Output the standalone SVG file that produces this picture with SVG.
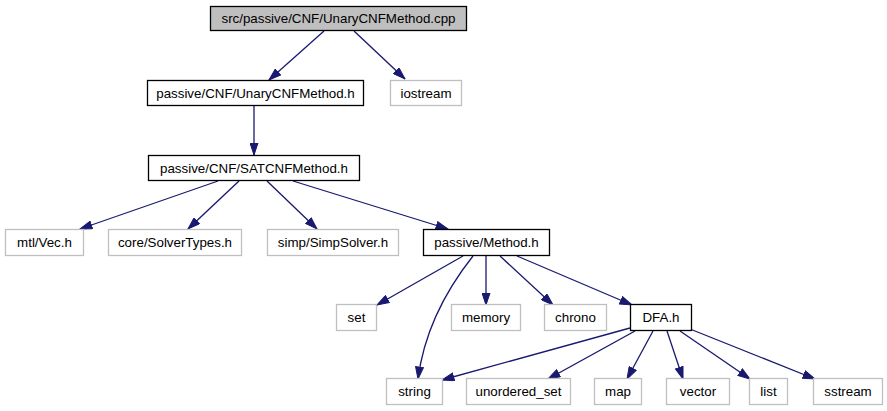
<svg xmlns="http://www.w3.org/2000/svg" width="887" height="411" viewBox="0 0 887 411">
<style>
  text { font-family: "Liberation Sans", Arial, Helvetica, sans-serif; font-size: 13.33px; fill: #000; text-anchor: middle; }
  .ext rect { fill: #fff; stroke: #bfbfbf; stroke-width: 1.3; }
  .int rect { fill: #fff; stroke: #000; stroke-width: 1.3; }
  .root rect { fill: #bfbfbf; stroke: #000; stroke-width: 1.3; }
  #edges path { fill: none; stroke: #191970; stroke-width: 1.3; marker-end: url(#arr); }
</style>
<defs>
  <marker id="arr" viewBox="0 0 13 9" refX="12.5" refY="4.5" markerWidth="13" markerHeight="9" markerUnits="userSpaceOnUse" orient="auto">
    <path d="M0.5,0.5 L12.5,4.5 L0.5,8.5 z" fill="#191970" stroke="#191970" stroke-width="1"/>
  </marker>
</defs>
<rect width="887" height="411" fill="#fff"/>
<g id="edges">
  <path d="M324,31 L269,80"/>
  <path d="M354,31 L405,79"/>
  <path d="M254,106 L254,155"/>
  <path d="M218,181 L80,229"/>
  <path d="M239,181 L188,229"/>
  <path d="M267,181 L317,229"/>
  <path d="M293,181 L448,229"/>
  <path d="M463,256 L377,305"/>
  <path d="M473,256 C450,285 425,325 418,379"/>
  <path d="M486,256 L486,305"/>
  <path d="M500,256 L553,305"/>
  <path d="M517,256 L632,305"/>
  <path d="M630,328 L442,380"/>
  <path d="M635,331 L548,379"/>
  <path d="M653,331 L627,379"/>
  <path d="M667,331 L683,379"/>
  <path d="M680,331 L750,379"/>
  <path d="M690,329 L815,379"/>
</g>
<g id="n_cpp" class="root"><rect x="210.5" y="6.5" width="256" height="24"/><text x="338.5" y="23">src/passive/CNF/UnaryCNFMethod.cpp</text></g>
<g id="n_unary" class="int"><rect x="147.5" y="80.5" width="216" height="25"/><text x="255.5" y="97.5">passive/CNF/UnaryCNFMethod.h</text></g>
<g id="n_iostream" class="ext"><rect x="390.5" y="80.5" width="71" height="25"/><text x="426" y="97.5">iostream</text></g>
<g id="n_sat" class="int"><rect x="148.5" y="155.5" width="211" height="25"/><text x="254" y="172.5">passive/CNF/SATCNFMethod.h</text></g>
<g id="n_vec" class="ext"><rect x="5.5" y="229.5" width="78" height="26"/><text x="44.5" y="247">mtl/Vec.h</text></g>
<g id="n_solvertypes" class="ext"><rect x="108.5" y="229.5" width="133" height="26"/><text x="175" y="247">core/SolverTypes.h</text></g>
<g id="n_simpsolver" class="ext"><rect x="267.5" y="229.5" width="131" height="26"/><text x="333" y="247">simp/SimpSolver.h</text></g>
<g id="n_method" class="int"><rect x="423.5" y="229.5" width="126" height="26"/><text x="486.5" y="247">passive/Method.h</text></g>
<g id="n_set" class="ext"><rect x="336.5" y="304.5" width="40" height="26"/><text x="356.5" y="322">set</text></g>
<g id="n_memory" class="ext"><rect x="451.5" y="304.5" width="69" height="26"/><text x="486" y="322">memory</text></g>
<g id="n_chrono" class="ext"><rect x="544.5" y="304.5" width="62" height="26"/><text x="575.5" y="322">chrono</text></g>
<g id="n_dfa" class="int"><rect x="630.5" y="304.5" width="61" height="26"/><text x="661" y="322">DFA.h</text></g>
<g id="n_string" class="ext"><rect x="386.5" y="378.5" width="56" height="26"/><text x="414.5" y="396">string</text></g>
<g id="n_uset" class="ext"><rect x="466.5" y="378.5" width="104" height="26"/><text x="518.5" y="396">unordered_set</text></g>
<g id="n_map" class="ext"><rect x="594.5" y="378.5" width="47" height="26"/><text x="618" y="396">map</text></g>
<g id="n_vector" class="ext"><rect x="666.5" y="378.5" width="63" height="26"/><text x="698" y="396">vector</text></g>
<g id="n_list" class="ext"><rect x="749.5" y="378.5" width="38" height="26"/><text x="768.5" y="396">list</text></g>
<g id="n_sstream" class="ext"><rect x="813.5" y="378.5" width="69" height="26"/><text x="848" y="396">sstream</text></g>
</svg>
